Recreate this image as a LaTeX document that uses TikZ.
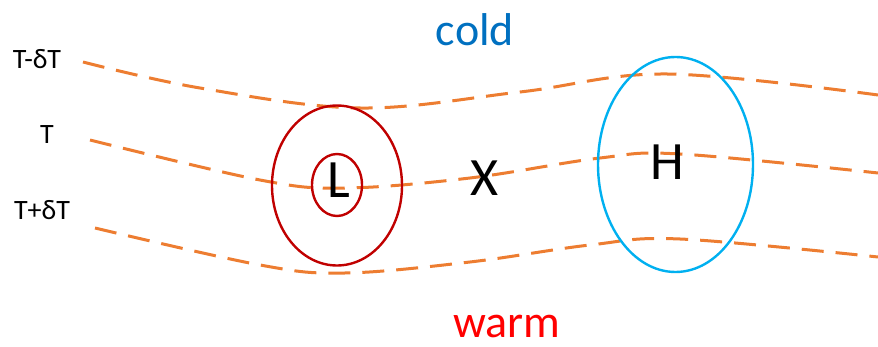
\documentclass[tikz,border=0pt]{standalone}
\usepackage{fontspec}
\setmainfont{Carlito}
\usepackage{tikz}
\definecolor{isoorange}{HTML}{ED7D31}
\definecolor{lowred}{HTML}{C00000}
\definecolor{highblue}{HTML}{00B0F0}
\definecolor{coldblue}{HTML}{0070C0}
\definecolor{warmred}{HTML}{FF0000}

\begin{document}
\begin{tikzpicture}[
    x=0.5pt, y=-0.5pt,
    isotherm/.style={isoorange, line width=1.5pt, dash pattern=on 11pt off 6pt},
    contour/.style={line width=1.2pt},
    centre/.style={font=\fontsize{27}{30}\selectfont},
    level/.style={font=\fontsize{14}{16}\selectfont},
    side/.style={font=\fontsize{23}{26}\selectfont}
  ]
    \useasboundingbox (0,0) rectangle (878,347);

    % isotherms
    \draw[isotherm] plot[smooth, tension=0.6] coordinates
      {(83,62) (200,88) (360,108) (520,92) (667,74) (878,95)};
    \draw[isotherm] plot[smooth, tension=0.6] coordinates
      {(90,140) (260,180) (345,188) (470,178) (600,158) (680,154) (878,173)};
    \draw[isotherm] plot[smooth, tension=0.6] coordinates
      {(95,228) (260,265) (345,273) (470,262) (590,245) (680,239) (878,257)};

    % low and high
    \draw[contour, lowred] (337,185.5) ellipse [x radius=65, y radius=80];
    \draw[contour, lowred] (337,185) ellipse [x radius=25, y radius=31];
    \draw[contour, highblue] (675.5,164.5) ellipse [x radius=77.5, y radius=107.5];

    \node[centre] (low) at (339,180) {L};
    \node[centre] (high) at (667,162) {H};
    \node[centre] (saddle) at (485,178) {X};

    \node[level] (minus) at (37,59) {T-δT};
    \node[level] (mid) at (47,135) {T};
    \node[level] (plus) at (42,210) {T+δT};

    \node[side, text=coldblue] (cold) at (475,30) {cold};
    \node[side, text=warmred] (warm) at (507,326) {warm};
\end{tikzpicture}
\end{document}
